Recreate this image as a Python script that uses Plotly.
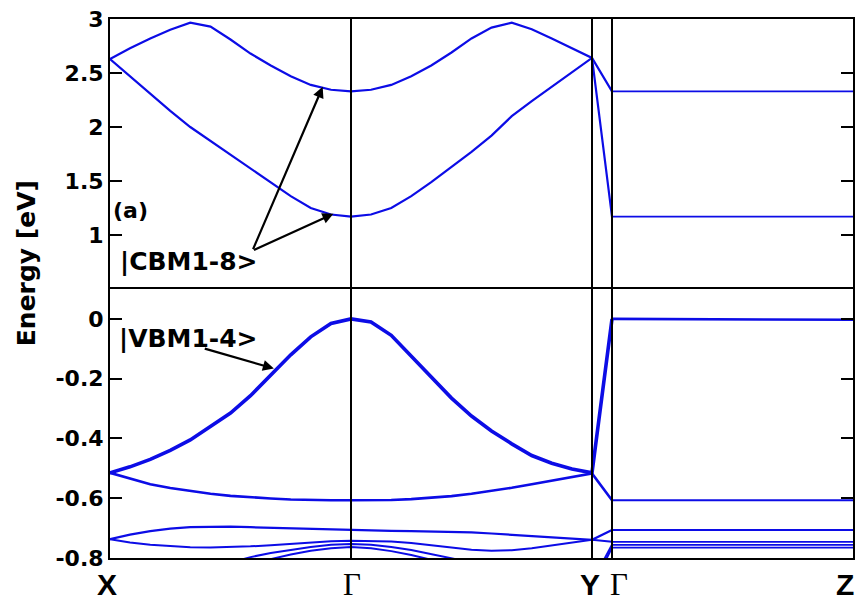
import plotly.graph_objects as go
from plotly.subplots import make_subplots

# ---- k-path (X - Gamma - Y | Gamma - Z) ----
K_PATH = [0.0, 0.083, 0.167, 0.25, 0.333, 0.417, 0.5, 0.583, 0.667, 0.75, 0.833, 0.917,
          1.0, 1.083, 1.167, 1.25, 1.333, 1.417, 1.5, 1.583, 1.667, 1.75, 1.833, 1.917,
          2.0, 2.083, 3.083]
HSP_POS = [0.0, 1.0, 2.0, 2.083, 3.083]
HSP_LABELS = ["X", "Γ", "Y", "Γ", "Z"]

# ---- conduction bands (eV) ----
CB_UPPER = [2.63, 2.73, 2.82, 2.90, 2.966, 2.93, 2.81, 2.68, 2.57, 2.47, 2.39, 2.345,
            2.33, 2.345, 2.39, 2.47, 2.57, 2.69, 2.82, 2.92, 2.966, 2.905, 2.82, 2.73,
            2.64, 2.33, 2.33]
CB_LOWER = [2.63, 2.47, 2.31, 2.15, 2.00, 1.87, 1.74, 1.61, 1.48, 1.36, 1.25, 1.19,
            1.17, 1.19, 1.25, 1.36, 1.49, 1.63, 1.77, 1.92, 2.10, 2.24, 2.37, 2.51,
            2.64, 1.17, 1.17]

# ---- valence bands (eV) ----
VB1 = [-0.515, -0.495, -0.47, -0.44, -0.405, -0.36, -0.315, -0.257, -0.19, -0.12, -0.06, -0.015,
       0.0, -0.01, -0.055, -0.125, -0.195, -0.265, -0.325, -0.375, -0.418, -0.457, -0.483, -0.502,
       -0.515, 0.0, -0.003]
VB2 = [-0.515, -0.535, -0.553, -0.566, -0.576, -0.585, -0.592, -0.597, -0.601, -0.604, -0.606, -0.607,
       -0.607, -0.607, -0.606, -0.603, -0.599, -0.593, -0.585, -0.576, -0.565, -0.553, -0.541, -0.529,
       -0.517, -0.607, -0.607]
VB3 = [-0.737, -0.722, -0.71, -0.702, -0.697, -0.695, -0.695, -0.697, -0.699, -0.701, -0.703, -0.705,
       -0.707, -0.708, -0.709, -0.71, -0.711, -0.712, -0.714, -0.718, -0.722, -0.727, -0.731, -0.735,
       -0.739, -0.706, -0.706]
VB4 = [-0.737, -0.748, -0.756, -0.761, -0.764, -0.765, -0.764, -0.761, -0.757, -0.752, -0.748, -0.744,
       -0.742, -0.743, -0.745, -0.75, -0.757, -0.765, -0.772, -0.776, -0.774, -0.767, -0.758, -0.748,
       -0.739, -0.746, -0.746]
VB5 = [None, None, None, None, None, -0.835, -0.815, -0.797, -0.783, -0.772, -0.763, -0.756,
       -0.753, -0.756, -0.763, -0.773, -0.786, -0.80, -0.815, -0.832, None, None, None, None,
       -0.88, -0.756, -0.756]
VB6 = [None, None, None, None, None, None, None, -0.82, -0.803, -0.788, -0.776, -0.767,
       -0.763, -0.767, -0.777, -0.79, -0.806, -0.824, None, None, None, None, None, None,
       -0.90, -0.765, -0.765]

TOP_TICKS = [1, 1.5, 2, 2.5, 3]
TOP_TICKTEXT = ["1", "1.5", "2", "2.5", "3"]
BOT_TICKS = [-0.8, -0.6, -0.4, -0.2, 0]
BOT_TICKTEXT = ["-0.8", "-0.6", "-0.4", "-0.2", "0"]

BLUE = "#0c0ce6"
SANS = "DejaVu Sans"

fig = make_subplots(rows=2, cols=1, shared_xaxes=True, vertical_spacing=0.0,
                    row_heights=[0.501, 0.499])

IG2 = K_PATH.index(2.083)


def add_band(vals, row, w_main, w_flat):
    fig.add_trace(go.Scatter(x=K_PATH[:IG2 + 1], y=vals[:IG2 + 1], mode="lines",
                             line=dict(color=BLUE, width=w_main), showlegend=False,
                             hoverinfo="skip"), row=row, col=1)
    fig.add_trace(go.Scatter(x=K_PATH[IG2:], y=vals[IG2:], mode="lines",
                             line=dict(color=BLUE, width=w_flat), showlegend=False,
                             hoverinfo="skip"), row=row, col=1)


add_band(CB_UPPER, 1, 2.2, 1.6)
add_band(CB_LOWER, 1, 2.2, 1.6)
add_band(VB1, 2, 3.6, 2.6)
add_band(VB2, 2, 2.6, 2.0)
add_band(VB3, 2, 2.2, 2.0)
add_band(VB4, 2, 2.0, 1.8)
add_band(VB5, 2, 2.0, 1.8)
add_band(VB6, 2, 2.0, 1.8)

axis_common = dict(showline=True, linecolor="black", linewidth=2, showgrid=False,
                   zeroline=False, automargin=False)
fig.update_yaxes(**axis_common, mirror="ticks", ticks="inside", ticklen=12, tickwidth=2,
                 tickcolor="black",
                 tickfont=dict(family=SANS, size=22, color="black", weight="bold"))
fig.update_yaxes(row=1, col=1, range=[0.5, 3], tickvals=TOP_TICKS, ticktext=TOP_TICKTEXT)
fig.update_yaxes(row=2, col=1, range=[-0.8, 0.1], tickvals=BOT_TICKS, ticktext=BOT_TICKTEXT)

fig.update_xaxes(**axis_common, ticks="", range=[HSP_POS[0], HSP_POS[-1]],
                 showticklabels=False)
# top panel: only its top border line; bottom panel: bottom + top (shared middle line)
fig.update_xaxes(row=1, col=1, mirror=False, side="top")
fig.update_xaxes(row=2, col=1, mirror=True, tickvals=HSP_POS)

for p in HSP_POS[1:4]:
    fig.add_shape(type="line", xref="x2", yref="paper", x0=p, x1=p, y0=0, y1=1,
                  line=dict(color="black", width=2))

annots = [
    dict(text="Energy [eV]", xref="paper", yref="paper", x=-0.113, y=0.547, textangle=-90,
         xanchor="center", yanchor="middle", showarrow=False,
         font=dict(family=SANS, size=25, color="black", weight="bold")),
    dict(text="(a)", xref="x", yref="y", x=0.087, y=1.224, showarrow=False,
         font=dict(family=SANS, size=22, color="black", weight="bold")),
    dict(text="|CBM1-8&gt;", xref="x", yref="y", x=0.328, y=0.755, showarrow=False,
         font=dict(family=SANS, size=25, color="black", weight="bold")),
    dict(text="|VBM1-4&gt;", xref="x2", yref="y2", x=0.326, y=-0.067, showarrow=False,
         font=dict(family=SANS, size=25, color="black", weight="bold")),
]
# high-symmetry point labels below the axis (small pixel nudges as in the original)
LABEL_SHIFT = [-3, 1, -2, 7, -8]
for p, lab, sh in zip(HSP_POS, HSP_LABELS, LABEL_SHIFT):
    if lab == "Γ":
        f = dict(family="Liberation Serif", size=31, color="black")
    else:
        f = dict(family="Liberation Sans", size=30, color="black", weight="bold")
    annots.append(dict(text=lab, xref="x2", yref="paper", x=p, y=-0.0495, xshift=sh,
                       yanchor="middle", xanchor="center", showarrow=False, font=f))

arrows = [
    ("x", "y", 0.591, 0.856, 0.8826, 2.372),
    ("x", "y", 0.591, 0.856, 0.927, 1.197),
    ("x2", "y2", 0.387, -0.098, 0.680, -0.166),
]
for xr, yr, tx, ty, hx, hy in arrows:
    annots.append(dict(text="", xref=xr, yref=yr, x=hx, y=hy, axref=xr, ayref=yr,
                       ax=tx, ay=ty, showarrow=True, arrowhead=2, arrowsize=1,
                       arrowwidth=2.2, arrowcolor="black", standoff=0, startstandoff=0))
fig.update_layout(annotations=annots)

fig.update_layout(width=857, height=602, margin=dict(l=110, r=4, t=19, b=44),
                  paper_bgcolor="white", plot_bgcolor="white", showlegend=False)

fig.write_html("out.html", config={"displayModeBar": False},
               post_script="document.body.style.margin='0';document.body.style.overflow='hidden';")
